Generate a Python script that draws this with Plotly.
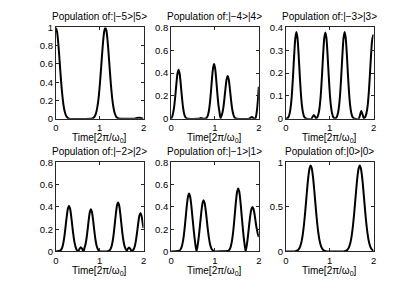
import plotly.graph_objects as go

# ---------------- data ----------------
titles = ["Population of:|−5>|5>", "Population of:|−4>|4>", "Population of:|−3>|3>",
          "Population of:|−2>|2>", "Population of:|−1>|1>", "Population of:|0>|0>"]
x_ticks = [0, 1, 2]
y_ticks = [[0, 0.2, 0.4, 0.6, 0.8, 1], [0, 0.2, 0.4, 0.6, 0.8], [0, 0.1, 0.2, 0.3, 0.4],
           [0, 0.2, 0.4, 0.6, 0.8], [0, 0.2, 0.4, 0.6, 0.8], [0, 0.5, 1]]
y_tick_text = [["0", "0.2", "0.4", "0.6", "0.8", "1"], ["0", "0.2", "0.4", "0.6", "0.8"],
               ["0", "0.1", "0.2", "0.3", "0.4"], ["0", "0.2", "0.4", "0.6", "0.8"],
               ["0", "0.2", "0.4", "0.6", "0.8"], ["0", "0.5", "1"]]
y_max = [1, 0.8, 0.4, 0.8, 0.8, 1]

t1 = [0, 0.025, 0.05, 0.075, 0.1, 0.125, 0.15, 0.175, 0.2, 0.225, 0.25, 0.3,
      0.83, 0.855, 0.88, 0.905, 0.93, 0.955, 0.98, 1.005, 1.03, 1.055, 1.08, 1.105, 1.13,
      1.155, 1.18, 1.205, 1.23, 1.255, 1.28, 1.305, 1.33, 1.355, 1.38, 1.405, 1.43,
      1.8, 1.85, 1.9, 1.95, 2.0]
p1 = [1.0, 0.96, 0.86, 0.71, 0.54, 0.38, 0.25, 0.15, 0.085, 0.044, 0.02, 0,
      0.004, 0.009, 0.021, 0.044, 0.085, 0.151, 0.249, 0.381, 0.54, 0.707, 0.857, 0.962, 1.0,
      0.962, 0.857, 0.707, 0.54, 0.381, 0.249, 0.151, 0.085, 0.044, 0.021, 0.009, 0.004,
      0, 0.008, 0.012, 0.006, 0]

t2 = [0, 0.02, 0.045, 0.07, 0.095, 0.12, 0.145, 0.17, 0.195, 0.22, 0.245, 0.27, 0.295, 0.32, 0.345, 0.37,
      0.62, 0.68, 0.74,
      0.78, 0.805, 0.83, 0.855, 0.88, 0.905, 0.93, 0.955, 0.98, 1.005, 1.03, 1.055, 1.08, 1.105, 1.125,
      1.14, 1.165, 1.19, 1.215, 1.24, 1.265, 1.29, 1.315, 1.34, 1.365, 1.39, 1.415, 1.44, 1.465, 1.5,
      1.78, 1.84, 1.9, 1.92, 1.95, 1.975, 2.0]
p2 = [0, 0.015, 0.049, 0.107, 0.197, 0.304, 0.394, 0.43, 0.394, 0.304, 0.197, 0.107, 0.049, 0.019, 0.006, 0,
      0, 0.006, 0,
      0, 0.007, 0.021, 0.055, 0.12, 0.22, 0.339, 0.44, 0.48, 0.44, 0.339, 0.22, 0.12, 0.055, 0.005,
      0.016, 0.043, 0.093, 0.172, 0.265, 0.344, 0.375, 0.344, 0.265, 0.172, 0.093, 0.043, 0.016, 0.005, 0,
      0, 0.015, 0, 0, 0.05, 0.14, 0.28]

t3 = [0, 0.04, 0.065, 0.09, 0.115, 0.14, 0.165, 0.19, 0.215, 0.24, 0.265, 0.29, 0.315, 0.34, 0.365, 0.39,
      0.415, 0.44, 0.47,
      0.58, 0.64, 0.69,
      0.7, 0.725, 0.75, 0.775, 0.8, 0.825, 0.85, 0.875, 0.9, 0.925, 0.95, 0.975, 1.0, 1.025, 1.05, 1.075,
      1.1, 1.12,
      1.14, 1.165, 1.19, 1.215, 1.24, 1.265, 1.29, 1.315, 1.34, 1.365, 1.39, 1.415, 1.44, 1.465, 1.49,
      1.515, 1.54, 1.57,
      1.66, 1.72, 1.78,
      1.79, 1.815, 1.84, 1.865, 1.89, 1.915, 1.94, 1.965, 1.99, 2.0]
p3 = [0, 0.003, 0.010, 0.027, 0.06, 0.116, 0.195, 0.283, 0.353, 0.38, 0.353, 0.283, 0.195, 0.116, 0.06, 0.027,
      0.010, 0.003, 0,
      0, 0.017, 0,
      0.003, 0.010, 0.027, 0.06, 0.116, 0.195, 0.283, 0.353, 0.378, 0.353, 0.283, 0.195, 0.116, 0.06, 0.027, 0.010,
      0.003, 0,
      0.003, 0.010, 0.027, 0.06, 0.116, 0.195, 0.283, 0.353, 0.38, 0.353, 0.283, 0.195, 0.116, 0.06, 0.027,
      0.010, 0.003, 0,
      0, 0.034, 0,
      0.003, 0.010, 0.026, 0.058, 0.112, 0.188, 0.272, 0.34, 0.366, 0.362]

t4 = [0, 0.1, 0.125, 0.15, 0.175, 0.2, 0.225, 0.25, 0.275, 0.3, 0.325, 0.35, 0.375, 0.4, 0.425, 0.45, 0.475,
      0.5, 0.52, 0.545, 0.57, 0.595, 0.62, 0.637,
      0.65, 0.675, 0.7, 0.725, 0.75, 0.775, 0.8, 0.825, 0.85, 0.875, 0.9, 0.925, 0.95, 0.975, 1.0, 1.05,
      1.15, 1.22, 1.245, 1.27, 1.295, 1.32, 1.345, 1.37, 1.395, 1.42, 1.445, 1.47, 1.495, 1.52, 1.545, 1.57,
      1.595, 1.62, 1.645, 1.67, 1.695, 1.72, 1.745,
      1.755, 1.78, 1.805, 1.83, 1.855, 1.88, 1.905, 1.93, 1.955, 1.98, 2.0]
p4 = [0, 0.007, 0.018, 0.041, 0.083, 0.148, 0.231, 0.318, 0.385, 0.41, 0.385, 0.318, 0.231, 0.148, 0.083, 0.041, 0.015,
      0.004, 0.008, 0.026, 0.037, 0.026, 0.008, 0.005,
      0.027, 0.06, 0.116, 0.195, 0.283, 0.353, 0.38, 0.353, 0.283, 0.195, 0.116, 0.06, 0.027, 0.010, 0.003, 0,
      0, 0.0075, 0.019, 0.044, 0.089, 0.158, 0.248, 0.341, 0.413, 0.44, 0.413, 0.341, 0.248, 0.158, 0.089, 0.044,
      0.019, 0.008, 0.025, 0.035, 0.025, 0.008, 0.005,
      0.009, 0.024, 0.054, 0.106, 0.177, 0.257, 0.32, 0.345, 0.32, 0.257, 0.21]

t5 = [0, 0.16, 0.185, 0.21, 0.235, 0.26, 0.285, 0.31, 0.335, 0.36, 0.385, 0.41, 0.435, 0.46, 0.485, 0.51,
      0.535, 0.56, 0.58,
      0.6, 0.625, 0.65, 0.675, 0.7, 0.72, 0.74, 0.765, 0.79, 0.815, 0.84, 0.865, 0.89, 0.915, 0.94, 0.965, 1.0,
      1.28, 1.305, 1.33, 1.355, 1.38, 1.405, 1.43, 1.455, 1.48, 1.505, 1.53, 1.555, 1.58, 1.605, 1.63, 1.655,
      1.68, 1.70,
      1.72, 1.745, 1.77, 1.795, 1.82, 1.84, 1.855, 1.88, 1.905, 1.93, 1.955, 1.98, 2.0]
p5 = [0, 0.003, 0.006, 0.015, 0.034, 0.070, 0.129, 0.214, 0.316, 0.417, 0.492, 0.52, 0.492, 0.417, 0.316, 0.214,
      0.12, 0.045, 0,
      0.04, 0.11, 0.2, 0.3, 0.39, 0.44, 0.46, 0.435, 0.368, 0.279, 0.189, 0.115, 0.062, 0.030, 0.013, 0.005, 0,
      0.003, 0.006, 0.016, 0.037, 0.077, 0.141, 0.233, 0.344, 0.454, 0.536, 0.567, 0.536, 0.454, 0.344, 0.233, 0.13,
      0.05, 0,
      0.04, 0.11, 0.2, 0.29, 0.36, 0.39, 0.40, 0.38, 0.33, 0.26, 0.2, 0.155, 0.13]

t6 = [0, 0.2, 0.24, 0.265, 0.29, 0.315, 0.34, 0.365, 0.39, 0.415, 0.44, 0.465, 0.49, 0.515, 0.54, 0.565,
      0.59, 0.615, 0.64, 0.665, 0.69, 0.715, 0.74, 0.765, 0.79, 0.815, 0.84, 0.865, 0.89, 0.93,
      1.32, 1.36, 1.385, 1.41, 1.435, 1.46, 1.485, 1.51, 1.535, 1.56, 1.585, 1.61, 1.635, 1.66, 1.685,
      1.71, 1.735, 1.76, 1.785, 1.81, 1.835, 1.86, 1.885, 1.91, 1.935, 1.96, 1.985, 2.0]
p6 = [0, 0, 0.005, 0.011, 0.022, 0.042, 0.077, 0.13, 0.208, 0.314, 0.442, 0.586, 0.729, 0.851, 0.935, 0.965,
      0.935, 0.851, 0.729, 0.586, 0.442, 0.314, 0.208, 0.13, 0.077, 0.042, 0.022, 0.011, 0.005, 0,
      0, 0.005, 0.011, 0.022, 0.042, 0.077, 0.13, 0.208, 0.314, 0.442, 0.586, 0.729, 0.851, 0.935, 0.965,
      0.935, 0.851, 0.729, 0.586, 0.442, 0.314, 0.208, 0.13, 0.077, 0.042, 0.022, 0.011, 0.007]

times = [t1, t2, t3, t4, t5, t6]
pops = [p1, p2, p3, p4, p5, p6]

# ---------------- layout ----------------
# page body has an 8px default margin, so the figure is drawn 8px smaller and
# all target pixel positions are shifted by that offset
OFF = 8
W, H = 415 - OFF, 291 - OFF
x_px = [(53.5 - OFF, 142.5 - OFF), (170.5 - OFF, 259.5 - OFF), (287 - OFF, 376 - OFF)]
y_px = [(22 - OFF, 117 - OFF), (162.5 - OFF, 255 - OFF)]
FONT = "Liberation Sans, Arial, Helvetica, sans-serif"

fig = go.Figure()
annotations = []
for i in range(6):
    r, c = divmod(i, 3)
    xd = [x_px[c][0] / W, x_px[c][1] / W]
    yd = [1 - y_px[r][1] / H, 1 - y_px[r][0] / H]
    xa = "x" if i == 0 else f"x{i+1}"
    ya = "y" if i == 0 else f"y{i+1}"
    fig.add_trace(go.Scatter(x=times[i], y=pops[i], mode="lines",
                             line=dict(color="black", width=2, shape="spline", smoothing=0.6),
                             xaxis=xa, yaxis=ya, showlegend=False, hoverinfo="skip"))
    common = dict(showline=True, linecolor="#262626", linewidth=0.8, mirror="allticks",
                  ticks="inside", ticklen=3, tickwidth=0.8, tickcolor="#262626",
                  showgrid=False, zeroline=False,
                  tickfont=dict(family=FONT, size=9.5, color="black"))
    fig.update_layout(**{
        ("xaxis" if i == 0 else f"xaxis{i+1}"): dict(domain=xd, range=[0, 2], tickvals=x_ticks,
                                                     ticktext=[str(v) for v in x_ticks],
                                                     anchor=ya, **common),
        ("yaxis" if i == 0 else f"yaxis{i+1}"): dict(domain=yd, range=[0, y_max[i]], tickvals=y_ticks[i],
                                                     ticktext=y_tick_text[i], anchor=xa, **common),
    })
    cx = (x_px[c][0] + x_px[c][1]) / 2 / W
    annotations.append(dict(text=titles[i], x=cx, y=1 - (y_px[r][0] - 11) / H, xref="paper", yref="paper",
                            xanchor="center", yanchor="middle", showarrow=False,
                            font=dict(family=FONT, size=10, color="black")))
    annotations.append(dict(text="Time[2π/ω<sub>0</sub>]", x=cx, y=1 - (y_px[r][1] + 20.5) / H,
                            xref="paper", yref="paper", xanchor="center", yanchor="middle",
                            showarrow=False, font=dict(family=FONT, size=10, color="black")))

fig.update_layout(width=W, height=H, margin=dict(l=0, r=0, t=0, b=0),
                  paper_bgcolor="white", plot_bgcolor="white", annotations=annotations)
fig.write_html("out.html")
